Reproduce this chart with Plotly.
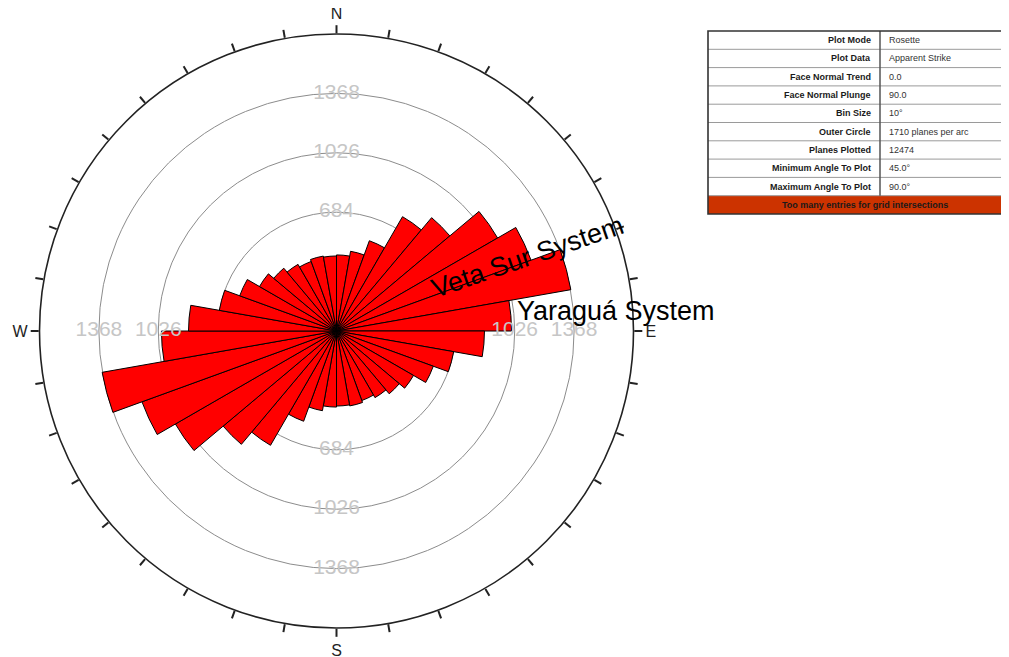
import plotly.graph_objects as go

# ---------------- data ----------------
bin_size = 10
bin_starts = list(range(0, 180, 10))            # apparent strike bins (deg)
bin_counts = [438, 466, 553, 760, 852, 1071, 1192, 1370, 1008,
              852, 685, 593, 512, 472, 443, 426, 438, 432]
outer_circle = 1710
ring_values = [684, 1026, 1368]
# ring labels that are visible in the chart: (direction, ring value)
label_dirs = [0, 0, 0, 180, 180, 180, 270, 270, 90, 90]
label_vals = [684, 1026, 1368, 684, 1026, 1368, 1026, 1368, 1026, 1368]
cardinal_vals = [0, 90, 180, 270]
cardinal_text = ["N", "E", "S", "W"]

table_labels = ["Plot Mode", "Plot Data", "Face Normal Trend", "Face Normal Plunge",
                "Bin Size", "Outer Circle", "Planes Plotted",
                "Minimum Angle To Plot", "Maximum Angle To Plot"]
table_values = ["Rosette", "Apparent Strike", "0.0", "90.0", "10°",
                "1710 planes per arc", "12474", "45.0°", "90.0°"]
table_note = "Too many entries for grid intersections"

system_labels = ["Veta Sur System", "Yaraguá System"]

# ---------------- figure ----------------
W, H = 1030, 665
OFF = 8   # page body margin of the exported html
theta = [s + bin_size / 2 for s in bin_starts] + [s + 180 + bin_size / 2 for s in bin_starts]
r = bin_counts + bin_counts


def px(x):
    return (x - OFF) / W


def py(y):
    return 1 - (y - OFF) / H


fig = go.Figure()
fig.add_trace(go.Scatterpolar(
    r=label_vals, theta=label_dirs, mode="text",
    text=[str(v) for v in label_vals],
    textfont=dict(family="Liberation Sans, Arial", size=21, color="#c6c6c6"),
    textposition="middle center", hoverinfo="skip", showlegend=False))
fig.add_trace(go.Barpolar(
    r=r, theta=theta, width=[bin_size] * len(r),
    marker=dict(color="#ff0000", line=dict(color="black", width=1)),
    showlegend=False))

cx, cy, R = 336.5, 331, 297
tick_vals = list(range(0, 360, 10))
tick_text = [cardinal_text[cardinal_vals.index(v)] if v in cardinal_vals else "" for v in tick_vals]

fig.update_layout(
    width=W, height=H,
    margin=dict(l=0, r=0, t=0, b=0),
    paper_bgcolor="white",
    showlegend=False,
    polar=dict(
        domain=dict(x=[px(cx - R), px(cx + R)], y=[py(cy + R), py(cy - R)]),
        bgcolor="white",
        angularaxis=dict(
            rotation=90, direction="clockwise",
            tickmode="array", tickvals=tick_vals, ticktext=tick_text,
            ticks="outside", ticklen=8, tickwidth=1.5, tickcolor="#222",
            showline=True, linecolor="#222", linewidth=1.6,
            showgrid=False,
            tickfont=dict(family="Liberation Sans, Arial", size=16, color="#222"),
        ),
        radialaxis=dict(
            range=[0, outer_circle], tickvals=ring_values,
            showticklabels=False, ticks="", showline=False,
            gridcolor="#8c8c8c", gridwidth=1,
        ),
    ),
)

# system annotations
fig.add_annotation(x=px(527), y=py(257), xref="paper", yref="paper",
                   text=system_labels[0], showarrow=False, textangle=-19,
                   font=dict(family="Liberation Sans, Arial", size=27, color="black"))
fig.add_annotation(x=px(616), y=py(311), xref="paper", yref="paper",
                   text=system_labels[1], showarrow=False,
                   font=dict(family="Liberation Sans, Arial", size=27, color="black"))

# ---------------- info table ----------------
tx0, tx1, tdiv = 708, 1022, 880
ty0, ty1 = 31, 214
nrows = len(table_labels) + 1
rh = (ty1 - ty0) / nrows

shapes = []
shapes.append(dict(type="rect", xref="paper", yref="paper",
                   x0=px(tx0), x1=px(tx1), y0=py(ty0 + rh * (nrows - 1)), y1=py(ty1),
                   fillcolor="#cc3300", line=dict(width=0)))
for i in range(1, nrows):
    y = ty0 + rh * i
    shapes.append(dict(type="line", xref="paper", yref="paper",
                       x0=px(tx0), x1=px(tx1), y0=py(y), y1=py(y),
                       line=dict(color="#9a9a9a", width=1)))
shapes.append(dict(type="line", xref="paper", yref="paper",
                   x0=px(tdiv), x1=px(tdiv), y0=py(ty0), y1=py(ty0 + rh * (nrows - 1)),
                   line=dict(color="#555", width=1.5)))
shapes.append(dict(type="rect", xref="paper", yref="paper",
                   x0=px(tx0), x1=px(tx1), y0=py(ty0), y1=py(ty1),
                   line=dict(color="#333", width=1.6), fillcolor="rgba(0,0,0,0)"))
fig.update_layout(shapes=shapes)

for i, (lab, val) in enumerate(zip(table_labels, table_values)):
    yc = ty0 + rh * (i + 0.5)
    fig.add_annotation(x=px(tdiv - 7), y=py(yc), xref="paper", yref="paper",
                       text=lab, showarrow=False, xanchor="right", yanchor="middle",
                       font=dict(family="Liberation Sans, Arial", size=9, color="#1a1a1a", weight="bold"))
    fig.add_annotation(x=px(tdiv + 7), y=py(yc), xref="paper", yref="paper",
                       text=val, showarrow=False, xanchor="left", yanchor="middle",
                       font=dict(family="Liberation Sans, Arial", size=9, color="#333"))
fig.add_annotation(x=px((tx0 + tx1) / 2), y=py(ty0 + rh * (nrows - 0.5)), xref="paper", yref="paper",
                   text=table_note, showarrow=False, xanchor="center", yanchor="middle",
                   font=dict(family="Liberation Sans, Arial", size=9, color="#1a1a1a", weight="bold"))

fig.write_html("out.html")
